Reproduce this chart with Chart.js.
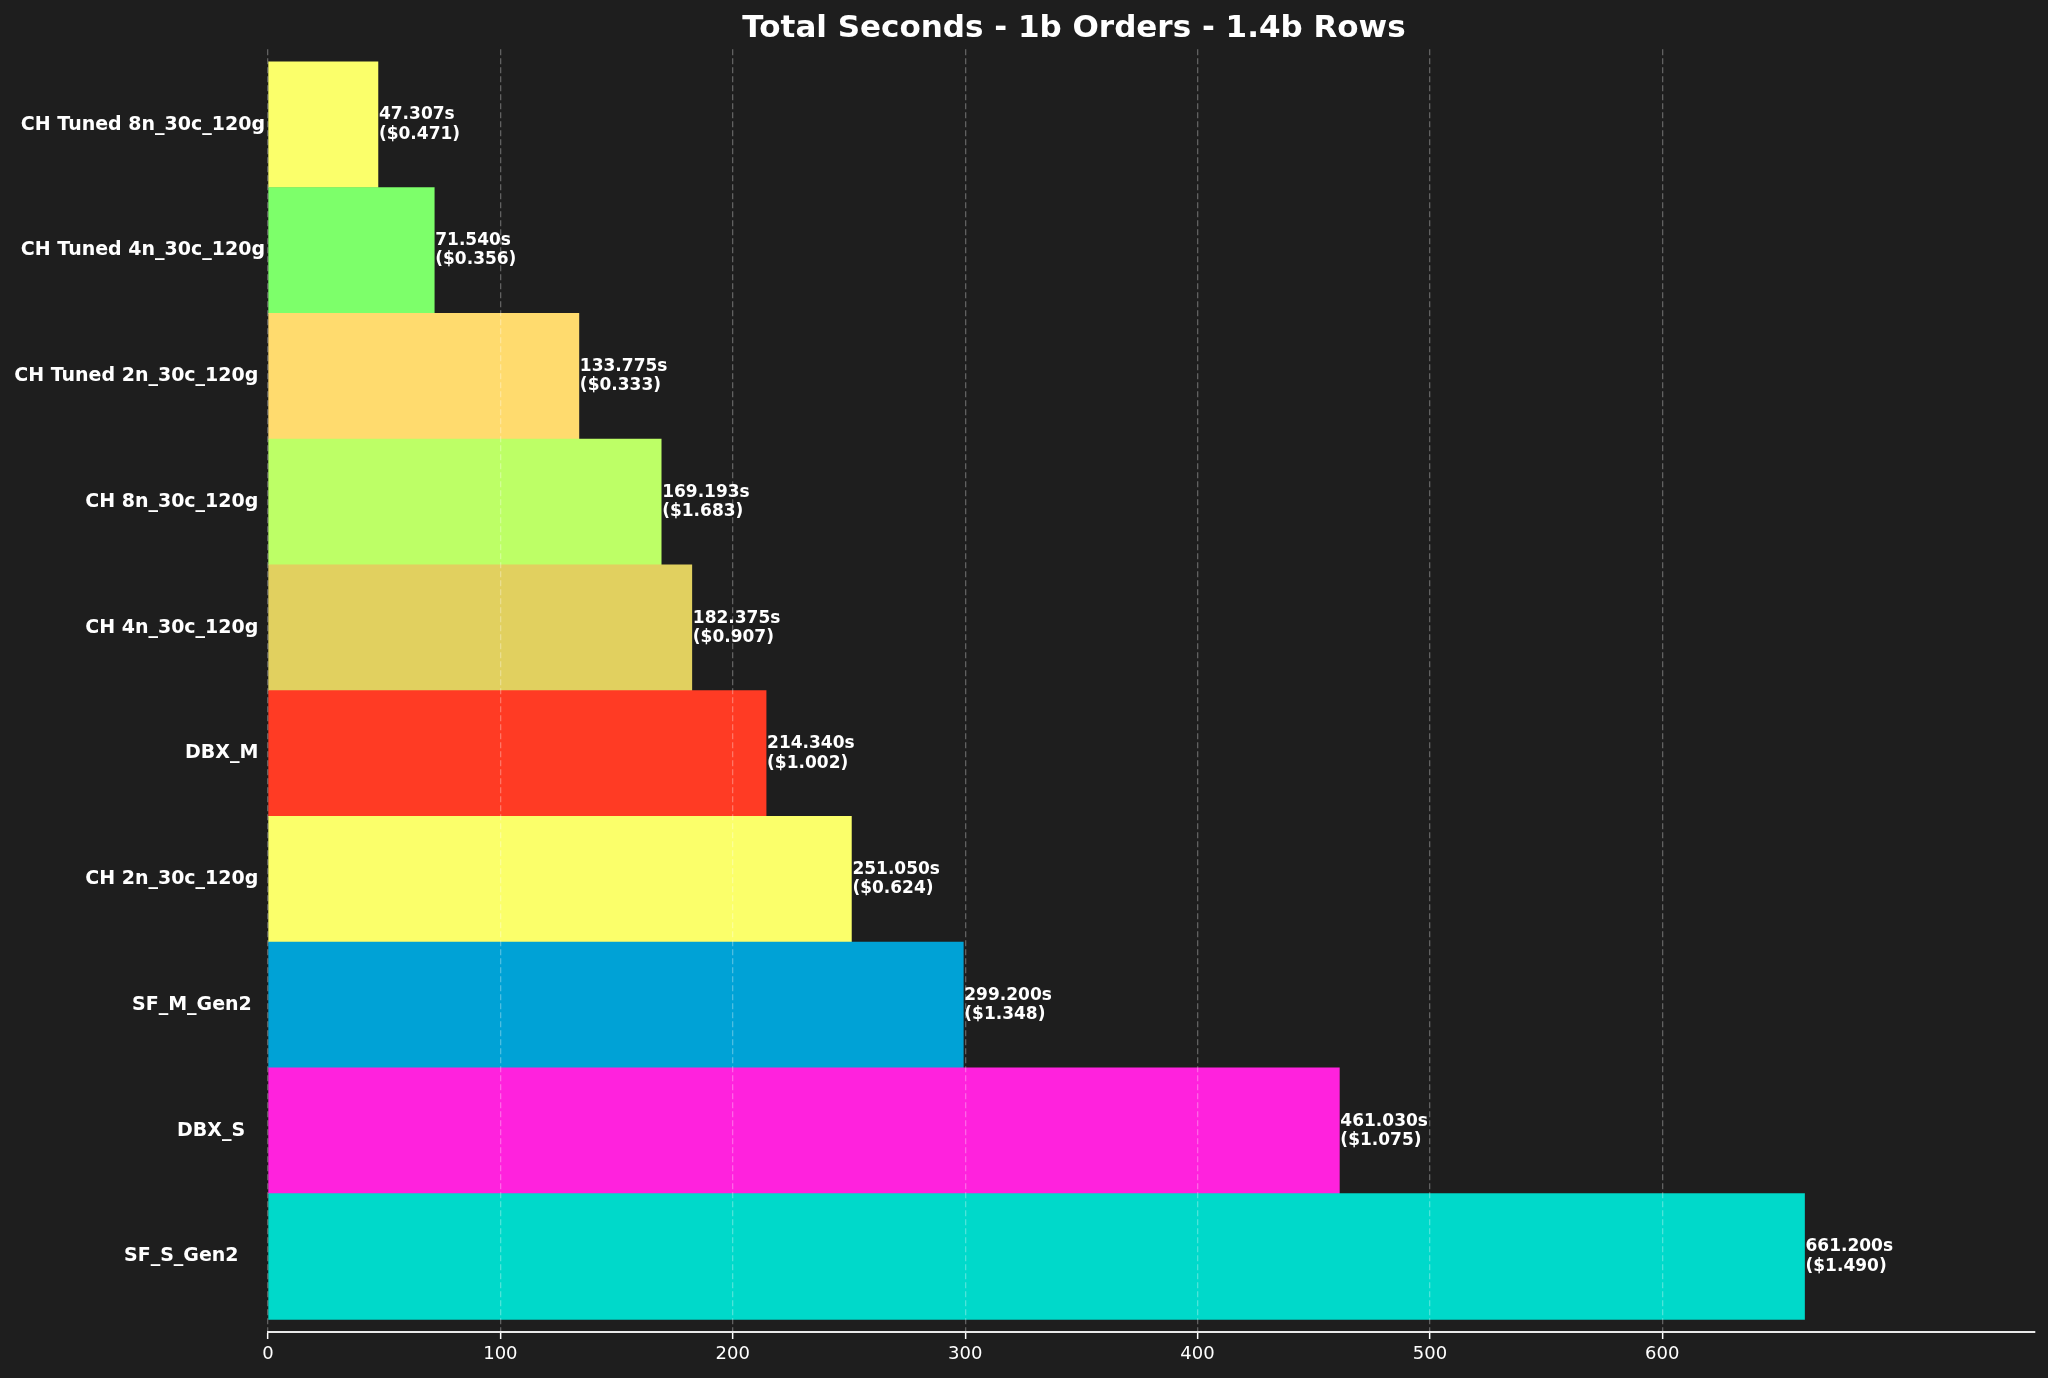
<!DOCTYPE html>
<html><head><meta charset="utf-8">
<script src="https://cdn.jsdelivr.net/npm/chart.js@4"></script>
<style>html,body{margin:0;padding:0;background:#1e1e1e;} #wrap{width:2048px;height:1378px;position:relative;}</style>
</head><body><div id="wrap"><canvas id="c"></canvas></div>
<script>
const categories = ['CH Tuned 8n_30c_120g', 'CH Tuned 4n_30c_120g', 'CH Tuned 2n_30c_120g', 'CH 8n_30c_120g', 'CH 4n_30c_120g', 'DBX_M', 'CH 2n_30c_120g', 'SF_M_Gen2', 'DBX_S', 'SF_S_Gen2'];
const seconds = [47.307, 71.540, 133.775, 169.193, 182.375, 214.340, 251.050, 299.200, 461.030, 661.200];
const costs = [0.471, 0.356, 0.333, 1.683, 0.907, 1.002, 0.624, 1.348, 1.075, 1.490];
const barColors = ['#FBFF6A', '#7DFF6A', '#FFDB6E', '#BDFF66', '#E1D05F', '#FF3B24', '#FBFF6A', '#00A2D6', '#FF22DD', '#00D9CA'];
const xTicks = [0, 100, 200, 300, 400, 500, 600];
const labelPad = [0, 0, 1, 1, 1, 1, 1, 2, 3, 4];
const yTickLabels = categories.map((c, i) => c + ' '.repeat(labelPad[i]));
const X_MAX = Math.max(...seconds) * 1.15;

const valueLabels = {
  id: 'valueLabels',
  afterLayout(chart) { if (chart.titleBlock) { chart.titleBlock.left = 113; } },
  afterDraw(chart) {
    const meta = chart.getDatasetMeta(0);
    const ctx = chart.ctx;
    ctx.save();
    ctx.font = 'bold 17px "DejaVu Sans"';
    ctx.fillStyle = '#ffffff';
    ctx.textAlign = 'left';
    ctx.textBaseline = 'middle';
    meta.data.forEach((bar, i) => {
      ctx.fillText(seconds[i].toFixed(3) + 's', bar.x + 1, bar.y - 9.6);
      ctx.fillText('($' + costs[i].toFixed(3) + ')', bar.x + 1, bar.y + 9.6);
    });
    ctx.restore();
  }
};

new Chart(document.getElementById('c'), {
  type: 'bar',
  data: {
    datasets: [{
      data: seconds.map((v, i) => ({x: v, y: i})),
      backgroundColor: barColors,
      borderWidth: 0,
      barPercentage: 1,
      categoryPercentage: 1
    }]
  },
  options: {
    indexAxis: 'y',
    responsive: true,
    maintainAspectRatio: false,
    animation: false,
    layout: {padding: {left: 0, right: 13, top: 0, bottom: 0}},
    plugins: {
      legend: {display: false},
      tooltip: {enabled: false},
      title: {
        display: true,
        text: 'Total Seconds - 1b Orders - 1.4b Rows',
        color: '#ffffff',
        font: {family: 'DejaVu Sans', size: 31, weight: 'bold', lineHeight: 1.2},
        padding: {top: 10, bottom: 2}
      }
    },
    scales: {
      x: {
        type: 'linear', min: 0, max: X_MAX, position: 'bottom', bounds: 'data', offset: false,
        afterBuildTicks: ax => { ax.ticks = xTicks.map(v => ({value: v})); },
        afterFit: ax => { ax.height = 46; },
        grid: {z: 1, offset: false, color: 'rgba(255,255,255,0.3)', lineWidth: 1.3, drawTicks: true, tickLength: 7, tickColor: '#ffffff', tickWidth: 1.5, tickBorderDash: []},
        border: {display: true, color: '#e8e8e8', width: 2, dash: [6, 3], z: 2},
        ticks: {color: '#ffffff', font: {family: 'DejaVu Sans', size: 18}, padding: 5, maxRotation: 0, autoSkip: false}
      },
      y: {
        type: 'linear', min: -0.6, max: 9.6, reverse: true, bounds: 'data', offset: false,
        afterBuildTicks: ax => { ax.ticks = categories.map((_, i) => ({value: i})); },
        afterFit: ax => { ax.width = 268; },
        grid: {display: false, drawTicks: false, offset: false},
        border: {display: false},
        ticks: {color: '#ffffff', font: {family: 'DejaVu Sans', size: 19, weight: 'bold'}, padding: 3, autoSkip: false, callback: (v) => yTickLabels[v]}
      }
    }
  },
  plugins: [valueLabels]
});
</script>
</body></html>
